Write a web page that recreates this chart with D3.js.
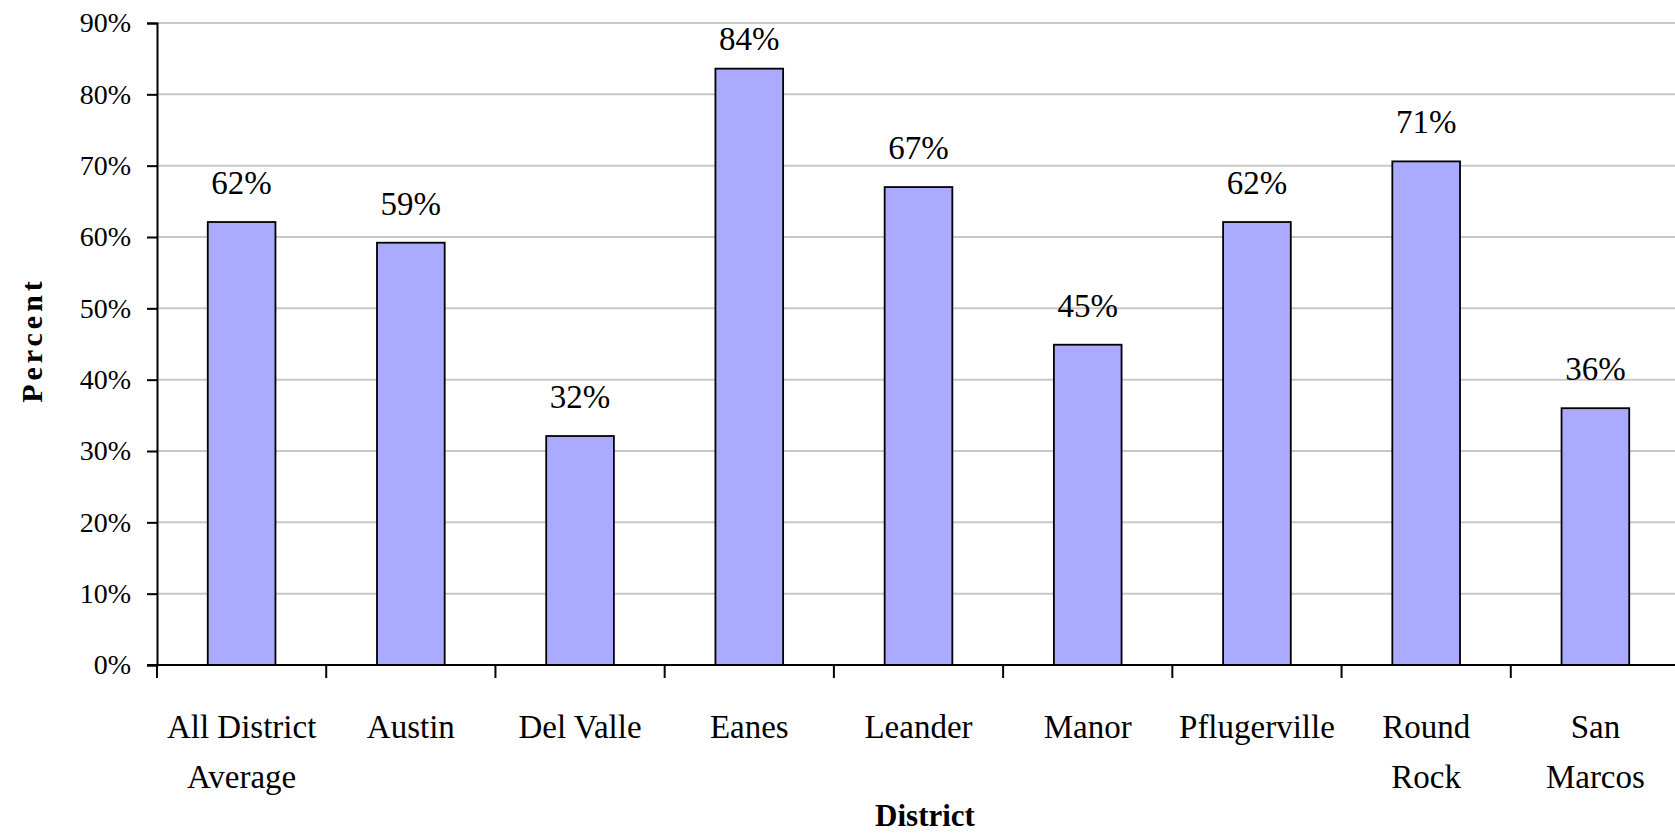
<!DOCTYPE html>
<html>
<head>
<meta charset="utf-8">
<script src="https://cdn.jsdelivr.net/npm/d3@7"></script>
<style>
  body { margin: 0; background: #fff; }
  text { font-family: "Liberation Serif", "Times New Roman", serif; fill: #000; }
</style>
</head>
<body>
<div id="chart"></div>
<script>
// districts (line breaks as in the original labels)
var categories = ["All District\nAverage", "Austin", "Del Valle", "Eanes", "Leander", "Manor", "Pflugerville", "Round\nRock", "San\nMarcos"];
// percent values
var values = [0.621, 0.592, 0.321, 0.836, 0.670, 0.449, 0.621, 0.706, 0.360];
var valueLabels = ["62%", "59%", "32%", "84%", "67%", "45%", "62%", "71%", "36%"];
var yTicks = [0, 0.1, 0.2, 0.3, 0.4, 0.5, 0.6, 0.7, 0.8, 0.9];

var width = 1675, height = 835;
var margin = {top: 23, right: -5, bottom: 170, left: 157};

var svg = d3.select("#chart").append("svg")
    .attr("width", width)
    .attr("height", height);

var x = d3.scaleBand()
    .domain(categories)
    .range([margin.left, width - margin.right])
    .padding(0);

var y = d3.scaleLinear()
    .domain([0, 0.9])
    .range([height - margin.bottom, margin.top]);

// gridlines
svg.append("g").selectAll("line")
    .data(yTicks.slice(1))
    .enter().append("line")
    .attr("x1", margin.left)
    .attr("x2", width)
    .attr("y1", function(d) { return y(d); })
    .attr("y2", function(d) { return y(d); })
    .attr("stroke", "#c8c8c8")
    .attr("stroke-width", 2);

// bars
var barW = x.bandwidth() * 0.4;
svg.append("g").selectAll("rect")
    .data(values)
    .enter().append("rect")
    .attr("x", function(d, i) { return x(categories[i]) + (x.bandwidth() - barW) / 2; })
    .attr("y", function(d) { return y(d); })
    .attr("width", barW)
    .attr("height", function(d) { return y(0) - y(d); })
    .attr("fill", "#aaaaff")
    .attr("stroke", "#000")
    .attr("stroke-width", 1.8);

// value labels (kept inside the chart when the bar is tall)
svg.append("g").selectAll("text")
    .data(values)
    .enter().append("text")
    .attr("x", function(d, i) { return x(categories[i]) + x.bandwidth() / 2; })
    .attr("y", function(d) { return Math.max(y(d) - 28, 50); })
    .attr("text-anchor", "middle")
    .style("font-size", "33px")
    .text(function(d, i) { return valueLabels[i]; });

// y axis
var yAxis = d3.axisLeft(y)
    .tickValues(yTicks)
    .tickFormat(d3.format(".0%"))
    .tickSize(10)
    .tickPadding(16);

var gy = svg.append("g")
    .attr("transform", "translate(" + margin.left + ",0)")
    .call(yAxis);
gy.select(".domain").attr("stroke", "#000").attr("stroke-width", 2);
gy.selectAll(".tick line").attr("stroke", "#000").attr("stroke-width", 2);
gy.selectAll(".tick text")
    .style("font-family", "'Liberation Serif', serif")
    .style("font-size", "28px")
    .attr("fill", "#000");

// x axis with ticks at category boundaries
var boundaries = categories.map(function(c) { return x(c); });
var gx = svg.append("g");
gx.append("line")
    .attr("x1", margin.left - 10)
    .attr("x2", width)
    .attr("y1", y(0))
    .attr("y2", y(0))
    .attr("stroke", "#000")
    .attr("stroke-width", 2);
gx.selectAll("line.tk")
    .data(boundaries)
    .enter().append("line")
    .attr("class", "tk")
    .attr("x1", function(d) { return d; })
    .attr("x2", function(d) { return d; })
    .attr("y1", y(0))
    .attr("y2", y(0) + 13)
    .attr("stroke", "#000")
    .attr("stroke-width", 2);

// category labels
var cat = svg.append("g").selectAll("text")
    .data(categories)
    .enter().append("text")
    .attr("x", function(d) { return x(d) + x.bandwidth() / 2; })
    .attr("y", 738)
    .attr("text-anchor", "middle")
    .style("font-size", "33px");
cat.each(function(d) {
    var t = d3.select(this);
    d.split("\n").forEach(function(line, i) {
        t.append("tspan")
            .attr("x", x(d) + x.bandwidth() / 2)
            .attr("dy", i ? 50 : 0)
            .text(line);
    });
});

// axis titles
svg.append("text")
    .attr("x", 925)
    .attr("y", 826)
    .attr("text-anchor", "middle")
    .style("font-size", "31px")
    .style("font-weight", "bold")
    .text("District");

svg.append("text")
    .attr("transform", "translate(42,340) rotate(-90)")
    .attr("text-anchor", "middle")
    .style("font-size", "30px")
    .style("font-weight", "bold")
    .style("letter-spacing", "4px")
    .text("Percent");
</script>
</body>
</html>
